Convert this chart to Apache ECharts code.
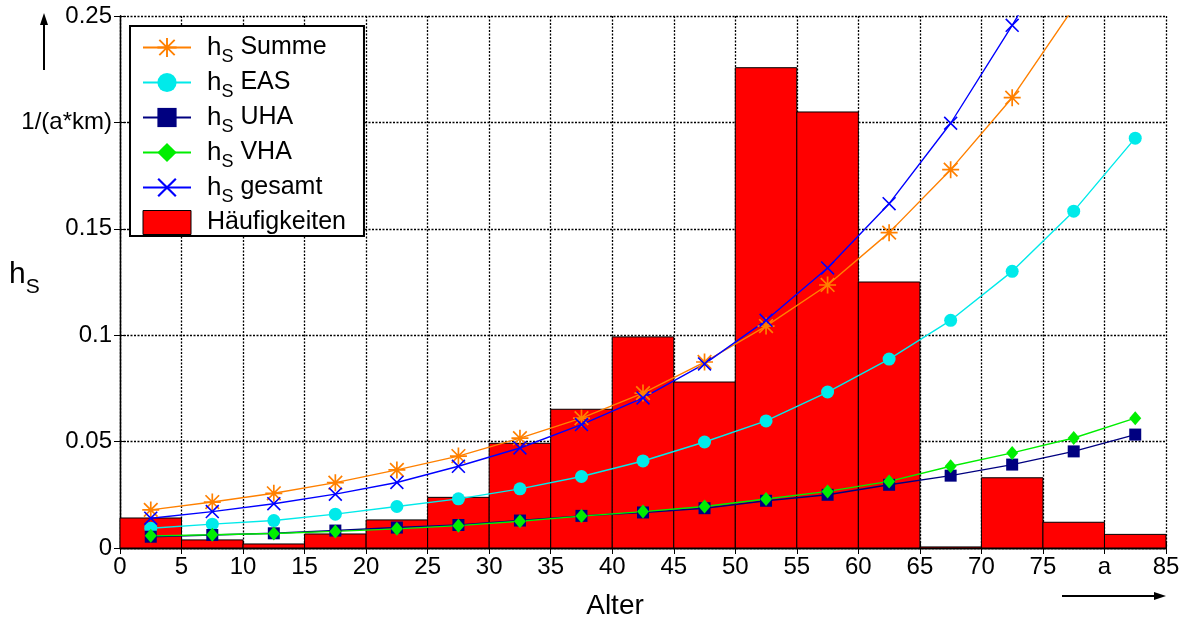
<!DOCTYPE html>
<html>
<head>
<meta charset="utf-8">
<script src="https://cdn.jsdelivr.net/npm/echarts@6/dist/echarts.min.js"></script>
<style>
html,body{margin:0;padding:0;background:#fff;}
#c{width:1188px;height:620px;}
</style>
</head>
<body>
<div id="c"></div>
<script>
// ---- data ----
const ageMid = [2.5, 7.5, 12.5, 17.5, 22.5, 27.5, 32.5, 37.5, 42.5, 47.5, 52.5, 57.5, 62.5, 67.5, 72.5, 77.5, 82.5];
const binStart = [0, 5, 10, 15, 20, 25, 30, 35, 40, 45, 50, 55, 60, 65, 70, 75, 80];
const binEnd   = [5, 10, 15, 20, 25, 30, 35, 40, 45, 50, 55, 60, 65, 70, 75, 80, 85];
const haeufigkeiten = [0.0141, 0.0038, 0.0019, 0.0066, 0.0132, 0.0238, 0.0492, 0.0652, 0.0992, 0.0780, 0.2257, 0.2049, 0.1250, 0.0005, 0.0330, 0.0121, 0.0064];
const hsSumme  = [0.0179, 0.0216, 0.0257, 0.0307, 0.0367, 0.0432, 0.0516, 0.0610, 0.0728, 0.0874, 0.1043, 0.1236, 0.1482, 0.1778, 0.2116, 0.2540, null];
const hsEAS    = [0.0093, 0.0112, 0.0129, 0.0159, 0.0195, 0.0231, 0.0278, 0.0336, 0.0409, 0.0498, 0.0597, 0.0733, 0.0888, 0.1070, 0.1300, 0.1583, 0.1926];
const hsUHA    = [0.0053, 0.0061, 0.0069, 0.0082, 0.0096, 0.0108, 0.0129, 0.0151, 0.0167, 0.0187, 0.0222, 0.0250, 0.0297, 0.0340, 0.0392, 0.0454, 0.0533];
const hsVHA    = [0.0057, 0.0062, 0.0068, 0.0078, 0.0090, 0.0105, 0.0126, 0.0150, 0.0171, 0.0195, 0.0230, 0.0266, 0.0313, 0.0384, 0.0447, 0.0517, 0.0610];
const hsGesamt = [0.0140, 0.0171, 0.0208, 0.0253, 0.0308, 0.0384, 0.0470, 0.0580, 0.0705, 0.0865, 0.1070, 0.1316, 0.1618, 0.1996, 0.2456, 0.2940, null];
const xTickLabels = {0:'0',5:'5',10:'10',15:'15',20:'20',25:'25',30:'30',35:'35',40:'40',45:'45',50:'50',55:'55',60:'60',65:'65',70:'70',75:'75',80:'a',85:'85'};
const yTickLabels = {0:'0',5:'0.05',10:'0.1',15:'0.15',20:'1/(a*km)',25:'0.25'};

// ---- symbols ----
const asterisk = 'path://M9 0 L11 0 L11 20 L9 20 Z M0 9 L20 9 L20 11 L0 11 Z M1.3 2.7 L2.7 1.3 L18.7 17.3 L17.3 18.7 Z M17.3 1.3 L18.7 2.7 L2.7 18.7 L1.3 17.3 Z';
const cross = 'path://M1.3 2.7 L2.7 1.3 L18.7 17.3 L17.3 18.7 Z M17.3 1.3 L18.7 2.7 L2.7 18.7 L1.3 17.3 Z';

const pair = arr => ageMid.map((x, i) => [x, arr[i]]);
const FONT = '"Liberation Sans", Arial, sans-serif';

function lineSeries(name, data, color, symbol, size) {
  return {
    name: name, type: 'line', data: pair(data), z: 5,
    symbol: symbol, symbolSize: size, showSymbol: true,
    lineStyle: {color: color, width: 1.4},
    itemStyle: {color: color},
    emphasis: {disabled: true},
    animation: false, clip: true
  };
}

const chart = echarts.init(document.getElementById('c'), null, {renderer: 'canvas'});
const dotted = {color: '#000', type: [2, 1.5], width: 1.3};

const option = {
  animation: false,
  textStyle: {fontFamily: FONT},
  grid: {left: 120, right: 22, top: 16, bottom: 72, containLabel: false, outerBoundsMode: 'none'},
  xAxis: [{
    type: 'value', min: 0, max: 85, interval: 5, position: 'bottom',
    axisLine: {show: true, lineStyle: {color: '#000', width: 1.3}},
    axisTick: {show: true, inside: true, length: 6, lineStyle: {color: '#000'}},
    axisLabel: {color: '#000', fontSize: 24, fontFamily: FONT, margin: 7,
      formatter: v => xTickLabels[Math.round(v)] !== undefined ? xTickLabels[Math.round(v)] : ''},
    splitLine: {show: true, lineStyle: dotted},
    name: 'Alter', nameLocation: 'middle', nameGap: 44,
    nameTextStyle: {color: '#000', fontSize: 28, fontFamily: FONT, padding: [0, 56, 0, 0]}
  }, {
    type: 'value', min: 0, max: 85, interval: 5, position: 'top',
    axisLine: {show: true, lineStyle: {color: '#000', width: 1.3}},
    axisTick: {show: true, inside: true, length: 6, lineStyle: {color: '#000'}},
    axisLabel: {show: false}, splitLine: {show: false}
  }],
  yAxis: [{
    type: 'value', min: 0, max: 0.25, interval: 0.05, position: 'left',
    axisLine: {show: true, lineStyle: {color: '#000', width: 1.3}},
    axisTick: {show: true, inside: true, length: 6, lineStyle: {color: '#000'}},
    axisLabel: {color: '#000', fontSize: 24, fontFamily: FONT, margin: 8,
      formatter: v => { const k = Math.round(v * 100); return yTickLabels[k] !== undefined ? yTickLabels[k] : ''; }},
    splitLine: {show: true, lineStyle: dotted}
  }, {
    type: 'value', min: 0, max: 0.25, interval: 0.05, position: 'right',
    axisLine: {show: true, lineStyle: {color: '#000', width: 1.3}},
    axisTick: {show: true, inside: true, length: 6, lineStyle: {color: '#000'}},
    axisLabel: {show: false}, splitLine: {show: false}
  }],
  legend: {
    left: 130, top: 26, orient: 'vertical',
    backgroundColor: '#fff', borderColor: '#000', borderWidth: 2, borderRadius: 0,
    padding: [9, 18, 1, 12],
    itemWidth: 48, itemHeight: 24, itemGap: 4,
    data: [
      {name: 'Summe'}, {name: 'EAS'}, {name: 'UHA'}, {name: 'VHA'}, {name: 'gesamt'},
      {name: 'Häufigkeiten', icon: 'rect', itemStyle: {color: '#ff0000', borderColor: '#000', borderWidth: 1}}
    ],
    formatter: n => n === 'Häufigkeiten' ? '{f|Häufigkeiten}' : '{h|h}{s|S}{t| ' + n + '}',
    textStyle: {
      color: '#000', fontFamily: FONT, fontSize: 25,
      rich: {
        h: {fontSize: 26, fontFamily: FONT, color: '#000', verticalAlign: 'top', lineHeight: 25, padding: [0, 0, 0, 11]},
        s: {fontSize: 18, fontFamily: FONT, color: '#000', verticalAlign: 'top', padding: [13, 0, 0, 0], lineHeight: 18},
        t: {fontSize: 25, fontFamily: FONT, color: '#000', verticalAlign: 'top', lineHeight: 25},
        f: {fontSize: 25, fontFamily: FONT, color: '#000', verticalAlign: 'middle', lineHeight: 36, padding: [0, 0, 0, 11]}
      }
    }
  },
  series: [
    lineSeries('Summe', hsSumme, '#ff8000', asterisk, 17),
    lineSeries('EAS', hsEAS, '#00eaea', 'circle', 13),
    lineSeries('UHA', hsUHA, '#000080', 'rect', 12),
    lineSeries('VHA', hsVHA, '#00ee00', 'diamond', [12, 14]),
    lineSeries('gesamt', hsGesamt, '#0000ff', cross, 14),
    {
      name: 'Häufigkeiten', type: 'custom', z: 2,
      itemStyle: {color: '#ff0000'},
      data: binStart.map((s, i) => [s, binEnd[i], haeufigkeiten[i]]),
      encode: {x: [0, 1], y: 2},
      renderItem: function (params, api) {
        const p0 = api.coord([api.value(0), api.value(2)]);
        const p1 = api.coord([api.value(1), 0]);
        return {
          type: 'rect',
          shape: {x: p0[0], y: p0[1], width: p1[0] - p0[0], height: p1[1] - p0[1]},
          style: {fill: '#ff0000', stroke: '#000', lineWidth: 1}
        };
      }
    }
  ],
  graphic: [
    {type: 'line', shape: {x1: 44, y1: 70, x2: 44, y2: 20}, style: {stroke: '#000', lineWidth: 2}},
    {type: 'polygon', shape: {points: [[44, 13], [40, 25], [48, 25]]}, style: {fill: '#000'}},
    {type: 'line', shape: {x1: 1062, y1: 596, x2: 1158, y2: 596}, style: {stroke: '#000', lineWidth: 2}},
    {type: 'polygon', shape: {points: [[1166, 596], [1154, 592], [1154, 600]]}, style: {fill: '#000'}},
    {type: 'text', left: 9, top: 260, style: {
      text: '{h|h}{s|S}', fill: '#000',
      rich: {
        h: {fontSize: 30, fontFamily: FONT, fill: '#000', verticalAlign: 'top', lineHeight: 30},
        s: {fontSize: 21, fontFamily: FONT, fill: '#000', verticalAlign: 'top', padding: [17, 0, 0, 0], lineHeight: 21}
      }
    }}
  ]
};
chart.setOption(option);
</script>
</body>
</html>
